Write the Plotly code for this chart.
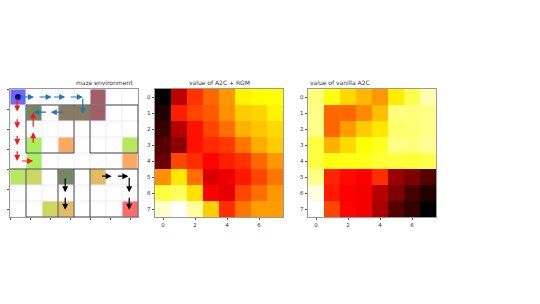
import plotly.graph_objects as go

W, H = 540, 304
rgm = [
 [0, .27, .44, .52, .59, .73, .745, .75],
 [.05, .41, .47, .5, .58, .67, .68, .73],
 [.08, .26, .39, .47, .53, .63, .66, .69],
 [.12, .2, .39, .43, .45, .54, .62, .67],
 [.15, .47, .43, .37, .41, .44, .52, .59],
 [.58, .71, .53, .31, .34, .4, .47, .54],
 [.81, .84, .7, .36, .33, .47, .53, .59],
 [.95, 1, .9, .67, .43, .54, .6, .6],
]
vanilla = [
 [.87, .76, .69, .64, .59, .72, .82, .92],
 [.88, .52, .52, .57, .65, .87, .87, .88],
 [.88, .52, .6, .67, .71, .85, .86, .88],
 [.81, .63, .69, .75, .78, .88, .87, .89],
 [.81, .76, .77, .77, .8, .81, .8, .82],
 [.88, .42, .38, .36, .43, .22, .18, .12],
 [.97, .4, .36, .35, .26, .18, .1, .05],
 [1, .47, .37, .35, .24, .12, .07, 0],
]
maze_colors = ["#ffffff", "#6a6af5", "#76885f", "#a35f68", "#8a7a62", "#b8e85f",
               "#ffa85f", "#a8f05f", "#cdd65f", "#e3bc5f", "#ff6a6a"]
maze = [
 [1, 0, 0, 0, 0, 3, 0, 0],
 [0, 2, 0, 4, 4, 3, 0, 0],
 [0, 0, 0, 0, 0, 0, 0, 0],
 [0, 7, 0, 6, 0, 0, 0, 5],
 [0, 7, 0, 0, 0, 0, 0, 6],
 [5, 8, 0, 2, 0, 9, 0, 0],
 [0, 0, 0, 0, 0, 0, 0, 0],
 [0, 0, 8, 9, 0, 0, 0, 10],
]
walls = [
 (1, 1, 8, 1), (1, 1, 1, 4), (4, 1, 4, 4), (5, 1, 5, 4), (8, 1, 8, 4),
 (1, 4, 4, 4), (5, 4, 8, 4), (0, 5, 8, 5),
 (1, 5, 1, 8), (3, 5, 3, 8), (4, 5, 4, 8), (5, 5, 5, 8), (8, 5, 8, 8),
 (1, 8, 8, 8),
]
blue_arrows = [(0.5, .5, 1.5, .5), (1.75, .5, 2.6, .5), (2.65, .5, 3.45, .5), (3.7, .5, 4.55, .5),
               (4.55, .5, 4.55, 1.55), (3.45, 1.45, 2.55, 1.45), (2.35, 1.45, 1.45, 1.45)]
red_arrows = [(.45, .5, .45, 1.4), (.45, 1.8, .45, 2.45), (.45, 2.85, .45, 3.5), (.45, 3.8, .45, 4.5),
              (.65, 4.5, 1.45, 4.5), (1.45, 3.45, 1.45, 2.7), (1.45, 2.45, 1.45, 1.45)]
black_arrows = [(5.65, 5.45, 6.35, 5.45), (6.65, 5.45, 7.4, 5.45), (7.45, 5.45, 7.45, 6.45),
                (7.45, 6.7, 7.45, 7.55), (3.45, 5.5, 3.45, 6.45), (3.45, 6.7, 3.45, 7.55)]
tick_labels = [0, 2, 4, 6]
maze_ticks = [0, 1.25, 2.5, 3.75, 5, 6.25, 7.5]
grid_lines = [0, 1, 2, 3, 4, 5, 6, 7, 8]
titles = ["maze environment", "value of A2C + RGM", "value of vanilla A2C"]

boxes = [(10, 138), (155, 283), (308, 436)]
top, bottom = 89, 217
ydom = [1 - bottom / H, 1 - top / H]

fig = go.Figure()
scale = [[0, "#000000"], [.365, "#ff0000"], [.746, "#ffff00"], [1, "#ffffff"]]
n = len(maze_colors)
mscale = []
for i, c in enumerate(maze_colors):
    mscale += [[i / n, c], [(i + 1) / n, c]]

fig.add_trace(go.Heatmap(z=maze, colorscale=mscale, zmin=-.5, zmax=n - .5, showscale=False,
                         x0=.5, dx=1, y0=.5, dy=1, xaxis="x", yaxis="y", hoverinfo="skip"))
fig.add_trace(go.Heatmap(z=rgm, colorscale=scale, zmin=0, zmax=1, showscale=False, xaxis="x2", yaxis="y2"))
fig.add_trace(go.Heatmap(z=vanilla, colorscale=scale, zmin=0, zmax=1, showscale=False, xaxis="x3", yaxis="y3"))

gx, gy = [], []
for g in grid_lines:
    gx += [g, g, None, 0, 8, None]
    gy += [0, 8, None, g, g, None]
fig.add_trace(go.Scatter(x=gx, y=gy, mode="lines", line=dict(color="#ecebff", width=1),
                         xaxis="x", yaxis="y", showlegend=False, hoverinfo="skip"))
wx, wy = [], []
for a, b, c, d in walls:
    wx += [a, c, None]
    wy += [b, d, None]
fig.add_trace(go.Scatter(x=wx, y=wy, mode="lines", line=dict(color="#333333", width=.9),
                         xaxis="x", yaxis="y", showlegend=False, hoverinfo="skip"))
fig.add_trace(go.Scatter(x=[.5], y=[.5], mode="markers", marker=dict(color="#00007a", size=6),
                         xaxis="x", yaxis="y", showlegend=False))

for arrows, col in ((blue_arrows, "#1f77b4"), (red_arrows, "#ff1414"), (black_arrows, "#000000")):
    for a, b, c, d in arrows:
        fig.add_annotation(x=c, y=d, ax=a, ay=b, xref="x", yref="y", axref="x", ayref="y", text="",
                           showarrow=True, arrowhead=2, arrowsize=1, arrowwidth=1.2, arrowcolor=col)

common = dict(ticks="outside", ticklen=2.5, tickwidth=.6, tickcolor="#555555",
              tickfont=dict(family="DejaVu Sans", size=5.5, color="#333333"),
              showgrid=False, zeroline=False, showline=True, linecolor="#999999", linewidth=.7, mirror=True)
layout = dict(width=W, height=H, margin=dict(l=0, r=0, t=0, b=0), paper_bgcolor="white",
              plot_bgcolor="white", showlegend=False)
for i, (x0, x1) in enumerate(boxes):
    s = "" if i == 0 else str(i + 1)
    xa = dict(domain=[x0 / W, x1 / W], anchor="y" + s, **common)
    ya = dict(domain=ydom, anchor="x" + s, **common)
    if i == 0:
        xa.update(range=[0, 8], tickvals=maze_ticks, showticklabels=False)
        ya.update(range=[8, 0], tickvals=maze_ticks, showticklabels=False)
    else:
        xa.update(range=[-.5, 7.5], tickvals=tick_labels, ticktext=[str(t) for t in tick_labels])
        ya.update(range=[7.5, -.5], tickvals=list(range(8)))
    layout["xaxis" + s] = xa
    layout["yaxis" + s] = ya
fig.update_layout(**layout)
for (x0, x1), t in zip(boxes, titles):
    fig.add_annotation(x=(x0 + x1) / 2 / W, y=1 - (top - 1) / H, xref="paper", yref="paper", text=t,
                       showarrow=False, yanchor="bottom", font=dict(family="DejaVu Sans", size=6, color="#333333"))
fig.write_html("out.html", config=dict(displayModeBar=False),
               post_script="document.body.style.margin='0';document.documentElement.style.overflow='hidden';")
